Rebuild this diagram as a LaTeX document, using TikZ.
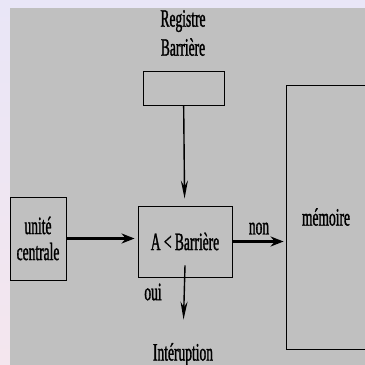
\documentclass[tikz,border=0pt]{standalone}
\usepackage{fontspec}
\setmainfont{Liberation Serif}[FakeStretch=0.54, FakeBold=1.2]
\usetikzlibrary{arrows.meta}

\definecolor{fond}{HTML}{C0C0C0}
\definecolor{lavande}{HTML}{E9E6F7}
\definecolor{rose}{HTML}{F4E6EE}

\tikzset{
  boite/.style={draw, line width=0.9pt, inner sep=0pt},
  epais/.style={line width=3pt, -{Stealth[length=13pt,width=10pt]}},
  fin/.style={line width=1.4pt, -{Stealth[length=18pt,width=7pt]}},
}

\begin{document}
\begin{tikzpicture}[x=1pt, y=-1pt, font=\fontsize{25}{29}\selectfont]
  \useasboundingbox (0,0) rectangle (365,365);
  \shade[top color=lavande, bottom color=rose] (0,0) rectangle (365,365);
  \fill[fond] (10,8) rectangle (365,365);
  \clip (0,0) rectangle (365,365);

  % les boites
  \node (titre) [align=center] at (183,33) {Registre\\Barrière};
  \node (reg) [boite, minimum width=81pt, minimum height=34pt] at (183.5,88) {};
  \node (uc) [boite, align=center, minimum width=56pt, minimum height=83pt] at (38,238.5) {unité\\[-3pt]centrale};
  \node (test) [boite, minimum width=94pt, minimum height=71pt] at (185,241.5) {A < Barrière};
  \node (mem) [boite, minimum width=80pt, minimum height=264pt] at (326,217) {mémoire};
  \node (intr) at (183,354.5) {Intéruption};

  % les fleches
  \draw[fin, shorten >=7pt] (reg) -- (test);
  \draw[epais, shorten >=3pt] (uc.east) -- (uc.east -| test.west);
  \draw[epais, shorten >=2pt] (test.east) -- (test.east -| mem.west)
    node [midway, above=2pt] {non};
  \draw[fin, shorten >=20pt] ([yshift=12pt]test.south) -- (intr.north);
  \node (oui) at (153,292) {oui};
\end{tikzpicture}
\end{document}
